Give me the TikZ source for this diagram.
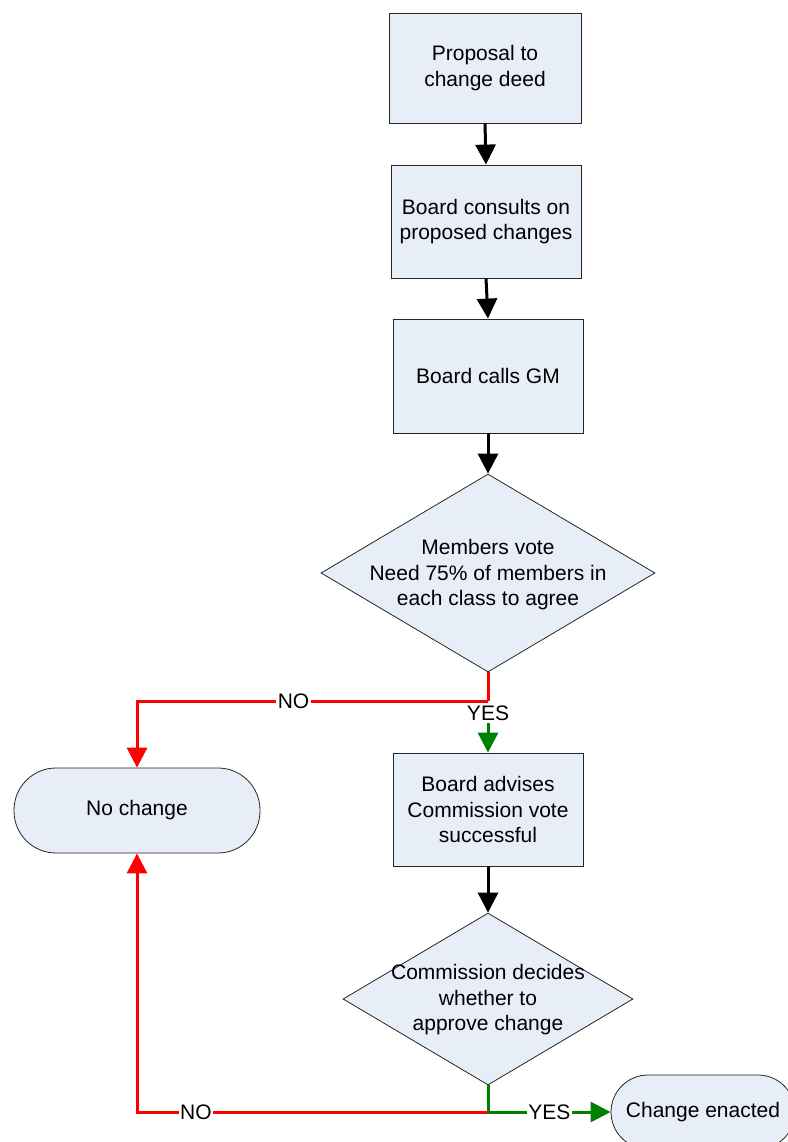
\documentclass[tikz,border=0pt]{standalone}
\usepackage{fontspec}
\setmainfont{Liberation Sans}
\usetikzlibrary{shapes.geometric,arrows.meta}
\definecolor{boxfill}{RGB}{232,238,247}
\definecolor{ygreen}{RGB}{0,128,0}
\definecolor{nred}{RGB}{255,0,0}
\begin{document}
\begin{tikzpicture}[x=1pt,y=-1pt,
  font=\fontsize{21}{25.5}\selectfont,
  procbox/.style={rectangle, draw=black!85, fill=boxfill, line width=0.8pt, minimum width=190pt, minimum height=113pt, align=center, inner sep=0pt},
  decision/.style={diamond, draw=black!85, fill=boxfill, line width=0.8pt, inner sep=0pt},
  termbox/.style={rectangle, rounded corners=#1, draw=black!85, fill=boxfill, line width=0.8pt, align=center, inner sep=0pt},
  txt/.style={align=center, inner sep=0pt},
  flow/.style={line width=3pt, -{Triangle[width=20pt,length=20pt]}},
  lab/.style={fill=white, inner sep=1.5pt},
]
\useasboundingbox (0,0) rectangle (787,1142);

\node[procbox, minimum width=192pt, minimum height=110pt] (b1) at (485,68) {Proposal to\\change deed};
\node[procbox] (b2) at (486,221.5) {Board consults on\\proposed changes};
\node[procbox, minimum height=114pt] (b3) at (488,376) {Board calls GM};
\node[decision, minimum width=334pt, minimum height=198pt] (d1) at (488,573) {};
\node[txt] (d1t) at (488,575) {Members vote\\Need 75\% of members in\\each class to agree};
\node[procbox] (b4) at (488,809.5) {Board advises\\Commission vote\\successful};
\node[decision, minimum width=290pt, minimum height=172pt] (d2) at (488,999) {};
\node[txt] (d2t) at (488,1000) {Commission decides\\whether to\\approve change};
\node[termbox=42pt, minimum width=246pt, minimum height=85pt] (nc) at (137,810.5) {No change};
\node[termbox=37pt, minimum width=184pt, minimum height=74pt] (ce) at (703,1112) {Change enacted};

\coordinate (k1) at (488,701);
\coordinate (k2) at (488,1112);

\draw[flow] (b1.south) -- (b2.north);
\draw[flow] (b2.south) -- (b3.north);
\draw[flow] (b3.south) -- (d1.north);
\draw[flow] (b4.south) -- (d2.north);

\draw[line width=3pt, nred] (d1.south) -- (k1);
\draw[flow, nred] (k1) -| node[lab, pos=0.277, text=black] {NO} (nc.north);
\node[inner sep=2pt] (yes1) at (488,713) {YES};
\draw[flow, ygreen] (yes1.south) -- (b4.north);

\draw[line width=3pt, ygreen] (d2.south) -- (k2);
\draw[flow, ygreen] (k2) -- node[lab, pos=0.5, text=black] {YES} (ce.west);
\draw[flow, nred] (k2) -| node[lab, pos=0.416, text=black] {NO} (nc.south);
\end{tikzpicture}
\end{document}
